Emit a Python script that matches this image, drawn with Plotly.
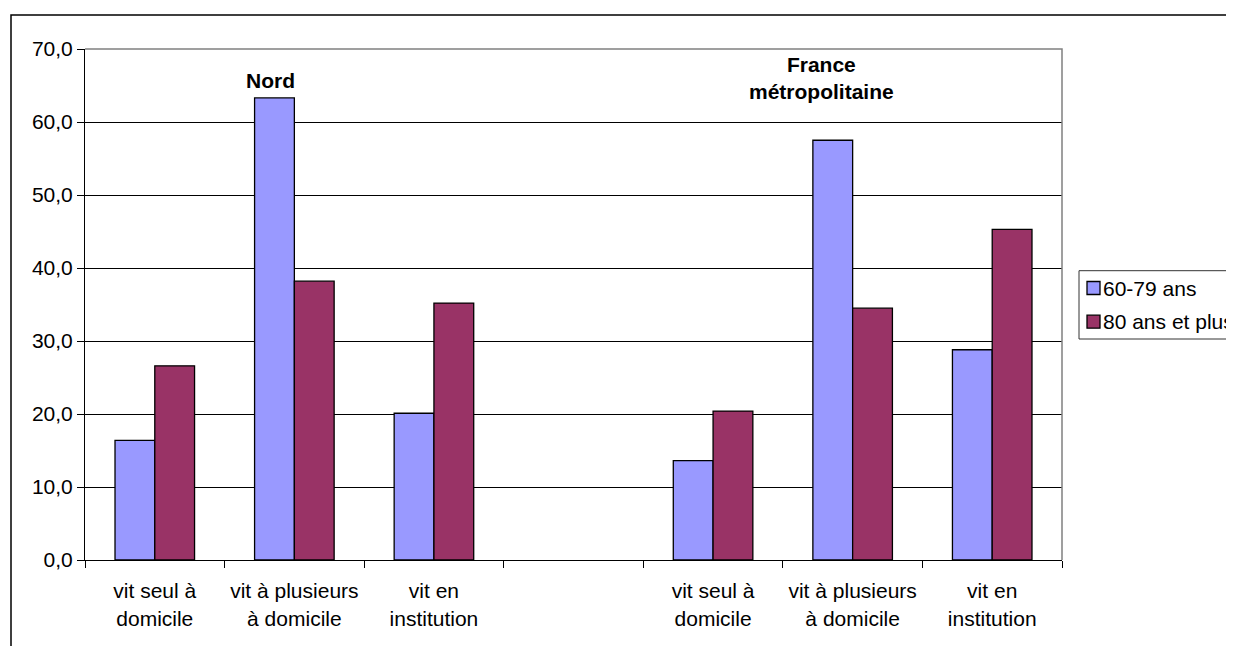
import plotly.graph_objects as go

# ---- data ----
categories = [
    "Nord - vit seul à domicile",
    "Nord - vit à plusieurs à domicile",
    "Nord - vit en institution",
    "sep",
    "France - vit seul à domicile",
    "France - vit à plusieurs à domicile",
    "France - vit en institution",
]
tick_labels = [
    "vit seul à<br>domicile",
    "vit à plusieurs<br>à domicile",
    "vit en<br>institution",
    "",
    "vit seul à<br>domicile",
    "vit à plusieurs<br>à domicile",
    "vit en<br>institution",
]
series_names = ["60-79 ans", "80 ans et plus"]
values_60_79 = [16.4, 63.3, 20.1, None, 13.6, 57.5, 28.8]
values_80_plus = [26.6, 38.2, 35.2, None, 20.4, 34.5, 45.3]
y_ticks = [0, 10, 20, 30, 40, 50, 60, 70]

FONT = "Liberation Sans, Arial, sans-serif"
colors = ["#9999FF", "#993366"]

# plot area in page pixels: x 85..1062, y 49..560 (page body has 8px margin)
W, H = 977, 511
def px(x):
    return (x - 85) / W
def py(y):
    return (560 - y) / H

fig = go.Figure()
for name, vals, col in zip(series_names, [values_60_79, values_80_plus], colors):
    fig.add_trace(go.Bar(
        x=categories, y=vals, name=name, showlegend=False,
        marker=dict(color=col, line=dict(color="black", width=1.3)),
    ))

# hand-built legend (box, swatches, labels)
shapes = [
    dict(type="path", xref="paper", yref="paper",
         path="M 0,1 L 1,1 L 1,0", line=dict(color="#808080", width=1.5),
         layer="above"),
    dict(type="rect", xref="paper", yref="paper",
         x0=px(11), y0=py(700), x1=px(1300), y1=py(15),
         line=dict(color="black", width=1.5), layer="below"),
    dict(type="rect", xref="paper", yref="paper",
         x0=px(1079), y0=py(339), x1=px(1300), y1=py(270.7),
         line=dict(color="#333333", width=1), fillcolor="white", layer="above"),
]
annotations = [
    dict(text="<b>Nord</b>", xref="paper", yref="paper",
         x=px(270), y=py(80.7), xanchor="center", yanchor="middle",
         showarrow=False, font=dict(family=FONT, size=21, color="black")),
    dict(text="<b>France<br>métropolitaine</b>", xref="paper", yref="paper",
         x=px(821.5), y=py(77.7), xanchor="center", yanchor="middle",
         showarrow=False, font=dict(family=FONT, size=21, color="black")),
]
for i, (name, col) in enumerate(zip(series_names, colors)):
    yc = 288 + i * 33.7
    shapes.append(dict(type="rect", xref="paper", yref="paper",
                       x0=px(1087), x1=px(1100), y0=py(yc + 6.5), y1=py(yc - 6.5),
                       line=dict(color="black", width=1.3), fillcolor=col,
                       layer="above"))
    annotations.append(dict(text=name, xref="paper", yref="paper",
                            x=px(1101), y=py(yc), xanchor="left", yanchor="middle",
                            showarrow=False,
                            font=dict(family=FONT, size=21, color="black")))

fig.update_layout(
    width=1226, height=638,
    margin=dict(l=77, r=172, t=41, b=86, autoexpand=False),
    paper_bgcolor="white", plot_bgcolor="white",
    barmode="group", bargap=0.43, bargroupgap=0,
    separators=", ",
    font=dict(family=FONT, size=21, color="black"),
    showlegend=False,
    xaxis=dict(
        type="category", categoryorder="array", categoryarray=categories,
        tickmode="array", tickvals=categories, ticktext=tick_labels,
        tickson="boundaries", ticks="outside", ticklen=7, tickcolor="black",
        tickangle=0, automargin=False, ticklabelstandoff=12,
        showline=True, linecolor="black", linewidth=1,
        showgrid=False, zeroline=False,
        range=[-0.5, 6.5],
        tickfont=dict(family=FONT, size=21, color="black"),
    ),
    yaxis=dict(
        range=[0, 70], tickvals=y_ticks, tickformat=".1f",
        ticks="outside", ticklen=7, tickcolor="black", automargin=False,
        showline=True, linecolor="black", linewidth=1,
        showgrid=True, gridcolor="black", gridwidth=1,
        zeroline=False,
        tickfont=dict(family=FONT, size=21, color="black"),
    ),
    annotations=annotations,
    shapes=shapes,
)

fig.write_html("out.html")
